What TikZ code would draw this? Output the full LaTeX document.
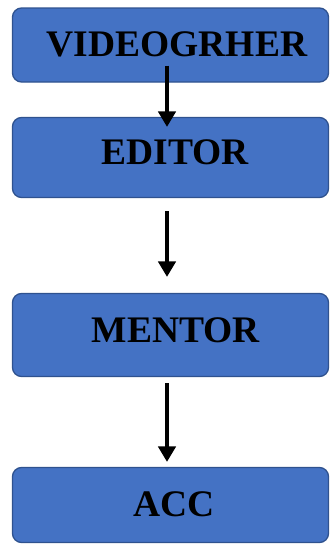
\documentclass[tikz,border=0pt]{standalone}
\usepackage{fontspec}
\setmainfont{Liberation Serif}
\usetikzlibrary{arrows.meta,calc}

\definecolor{boxfill}{HTML}{4472C4}
\definecolor{boxline}{HTML}{2F528F}

\tikzset{
  stagebox/.style={draw=boxline, fill=boxfill, line width=1.3pt,
    rounded corners=9pt, minimum width=316pt, inner sep=0pt},
  stagetext/.style={font=\fontsize{37.5}{40}\selectfont\bfseries, inner sep=0pt, text=black},
  flowarrow/.style={line width=3.3pt, -{Triangle[width=17.5pt,length=15.5pt]}}
}

\begin{document}
\begin{tikzpicture}[x=1pt,y=-1pt]
  \useasboundingbox (0,0) rectangle (330,544);

  % stage boxes
  \node[stagebox, minimum height=74pt] (b1) at (170.5,45) {};
  \node[stagebox, minimum height=80pt] (b2) at (170.5,157.5) {};
  \node[stagebox, minimum height=83pt] (b3) at (170.5,335) {};
  \node[stagebox, minimum height=75pt] (b4) at (170.5,505) {};

  % stage labels
  \node[stagetext] (t1) at (177,44.5) {VIDEOGRHER};
  \node[stagetext] (t2) at (175,152.5) {EDITOR};
  \node[stagetext] (t3) at (176,330) {MENTOR};
  \node[stagetext] (t4) at (174,504.5) {ACC};

  % flow between stages
  \draw[flowarrow] ($(b1.south)+(-3.5,-17)$) -- ($(b2.north)+(-3.5,10)$);
  \draw[flowarrow] ($(b2.south)+(-3.5,13)$) -- ($(b3.north)+(-3.5,-16)$);
  \draw[flowarrow] ($(b3.south)+(-3.5,6)$) -- ($(b4.north)+(-3.5,-5)$);
\end{tikzpicture}
\end{document}
